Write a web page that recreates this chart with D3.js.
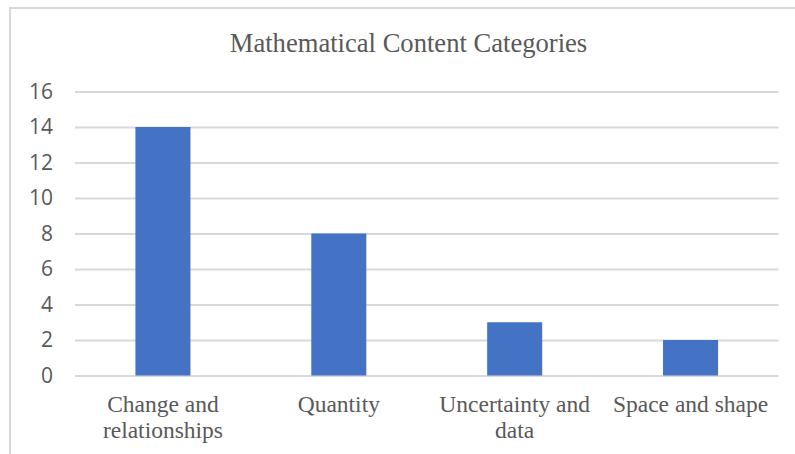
<!DOCTYPE html>
<html>
<head>
<meta charset="utf-8">
<script src="https://cdn.jsdelivr.net/npm/d3@7"></script>
<style>
  body { margin: 0; background: #fff; }
  svg { display: block; }
</style>
</head>
<body>
<script>
// chart data
var categories = ["Change and relationships", "Quantity", "Uncertainty and data", "Space and shape"];
var labelLines = [["Change and", "relationships"], ["Quantity"], ["Uncertainty and", "data"], ["Space and shape"]];
var counts = [14, 8, 3, 2];
var yTicks = [0, 2, 4, 6, 8, 10, 12, 14, 16];
var title = "Mathematical Content Categories";

var width = 795,
    height = 454,
    plotLeft = 75, plotRight = 778.5,
    plotTop = 91.5, plotBottom = 375.5;

var svg = d3.select("body")
  .append("svg")
  .attr("width", width)
  .attr("height", height);

// chart area border (cropped on the right and bottom)
svg.append("rect")
  .attr("x", 10)
  .attr("y", 8)
  .attr("width", 800)
  .attr("height", 460)
  .attr("fill", "none")
  .attr("stroke", "#d9d9d9")
  .attr("stroke-width", 2);

var x = d3.scaleBand()
  .domain(categories)
  .range([plotLeft, plotRight])
  .padding(0);

var y = d3.scaleLinear()
  .domain([0, 16])
  .range([plotBottom, plotTop]);

// gridlines + y labels
var yAxis = svg.append("g")
  .attr("transform", "translate(" + plotLeft + ",0)")
  .call(d3.axisLeft(y).tickValues(yTicks).tickSize(-(plotRight - plotLeft)).tickPadding(22));

yAxis.select(".domain").remove();
yAxis.selectAll("line")
  .attr("stroke", "#d9d9d9")
  .attr("stroke-width", 2);
yAxis.selectAll("text")
  .attr("fill", "#595959")
  .style("font-family", "'Open Sans', sans-serif")
  .style("font-size", "21px");

// bars
var barW = x.bandwidth() * 0.313;
svg.selectAll(".bar")
  .data(counts)
  .enter()
  .append("rect")
  .attr("class", "bar")
  .attr("x", function(d, i) { return x(categories[i]) + x.bandwidth() / 2 - barW / 2; })
  .attr("y", function(d) { return y(d); })
  .attr("width", barW)
  .attr("height", function(d) { return y(0) - y(d); })
  .attr("fill", "#4472c4");

// category labels
var lbl = svg.selectAll(".xlabel")
  .data(categories)
  .enter()
  .append("text")
  .attr("class", "xlabel")
  .attr("text-anchor", "middle")
  .attr("fill", "#595959")
  .style("font-family", "'Liberation Serif', 'Times New Roman', serif")
  .style("font-size", "23.5px");

lbl.each(function(d, i) {
  var t = d3.select(this);
  labelLines[i].forEach(function(line, j) {
    t.append("tspan")
      .attr("x", x(d) + x.bandwidth() / 2)
      .attr("y", 412 + j * 26)
      .text(line);
  });
});

// title
svg.append("text")
  .attr("x", 408.5)
  .attr("y", 52)
  .attr("text-anchor", "middle")
  .attr("fill", "#595959")
  .style("font-family", "'Liberation Serif', 'Times New Roman', serif")
  .style("font-size", "26.6px")
  .text(title);
</script>
</body>
</html>
